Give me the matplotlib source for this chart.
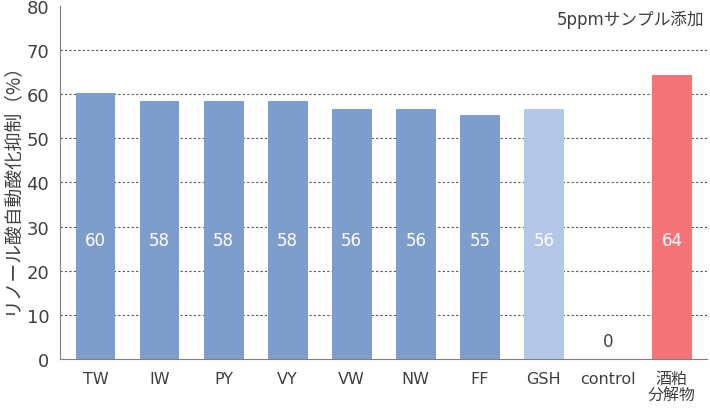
import numpy as np
import matplotlib
matplotlib.use('Agg')
import matplotlib.pyplot as plt

plt.rcParams['font.family'] = ['DejaVu Sans', 'Noto Sans CJK JP']

categories = ['TW', 'IW', 'PY', 'VY', 'VW', 'NW', 'FF', 'GSH', 'control', '酒粕\n分解物']
values = [60, 58, 58, 58, 56, 56, 55, 56, 0, 64]
bar_heights = [60.3, 58.4, 58.4, 58.4, 56.6, 56.6, 55.4, 56.6, 0, 64.3]
colors = ['#7f9dcb'] * 7 + ['#b4c7e6', '#7f9dcb', '#f47477']

text_color = '#404040'

fig = plt.figure(figsize=(7.1, 4.1), dpi=100)
ax = fig.add_axes([0.085, 0.122, 0.911, 0.861])

x = np.arange(len(categories))
ax.bar(x, bar_heights, width=0.62, color=colors, zorder=2)

for i, v in enumerate(values):
    if v == 0:
        ax.text(x[i], 4, str(v), ha='center', va='center', color=text_color, fontsize=12)
    else:
        ax.text(x[i], 27, str(v), ha='center', va='center', color='white', fontsize=12)

ax.set_xlim(-0.55, len(categories) - 0.45)
ax.set_ylim(0, 80)
ax.set_yticks(np.arange(0, 81, 10))
ax.set_xticks(x)
ax.set_xticklabels(categories, color=text_color, fontsize=11.5, linespacing=1.1)
ax.tick_params(axis='both', length=0, colors=text_color)
ax.tick_params(axis='y', labelsize=13, pad=8)
ax.tick_params(axis='x', pad=9)

for yv in range(10, 80, 10):
    ax.axhline(yv, color='#555555', linestyle=(0, (2, 2)), linewidth=0.8, zorder=1)

ax.spines['top'].set_visible(False)
ax.spines['right'].set_visible(False)
ax.spines['left'].set_color('#7f7f7f')
ax.spines['bottom'].set_color('#7f7f7f')

ax.set_ylabel('リノール酸自動酸化抑制（%）', family=['Noto Sans CJK JP'], color=text_color,
              fontsize=13.5, labelpad=4)
ax.text(0.995, 0.99, '5ppmサンプル添加', transform=ax.transAxes, ha='right', va='top',
        color=text_color, fontsize=12)

fig.savefig('out.png', dpi=100)
